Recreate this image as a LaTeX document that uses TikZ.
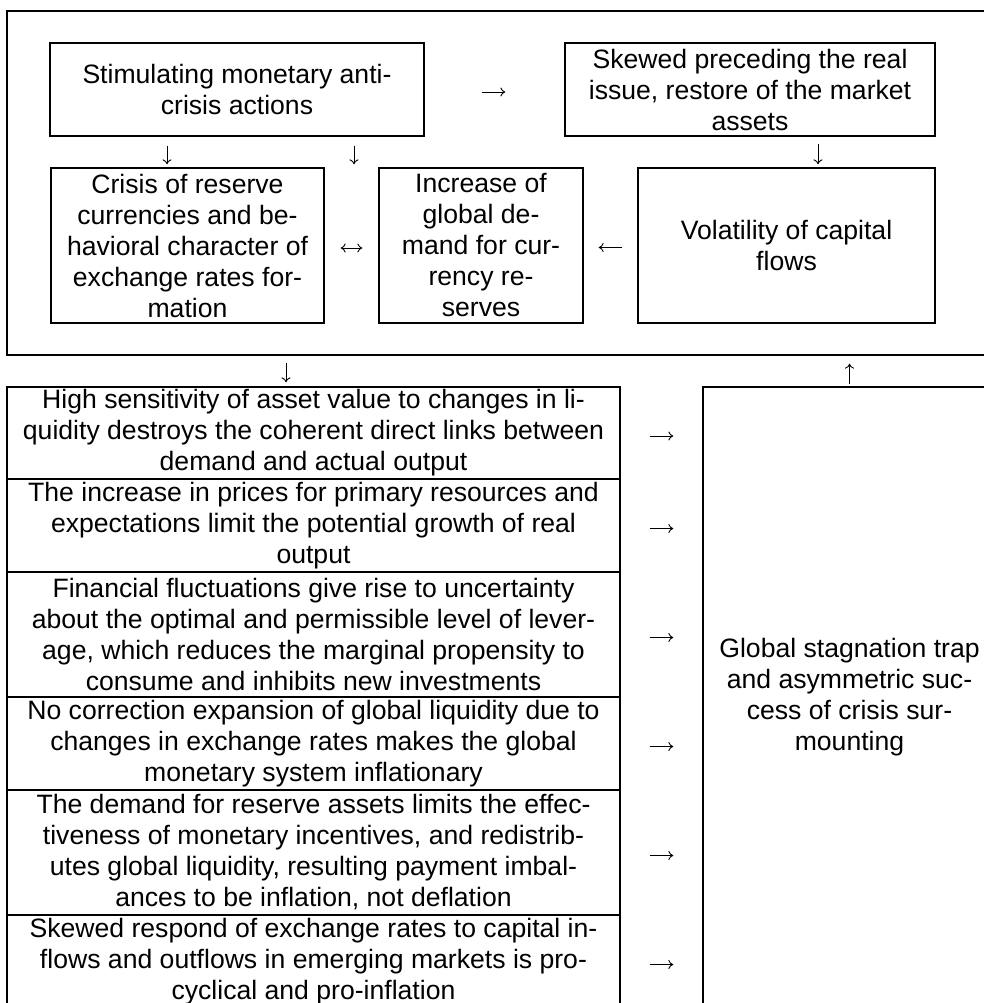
\documentclass[tikz,border=0pt]{standalone}
\usepackage{fontspec}
\setmainfont{Liberation Sans}
\usetikzlibrary{arrows.meta}
\begin{document}
\begin{tikzpicture}[x=1pt,y=-1pt,
  box/.style={draw, line width=1.3pt, rectangle, inner sep=0pt, align=center,
    font={\fontsize{26.6pt}{31pt}\selectfont}},
  conn/.style={line width=0.9pt, -{To[length=5pt,width=9pt]}},
  conntwo/.style={line width=0.9pt, {To[length=5pt,width=9pt]}-{To[length=5pt,width=9pt]}}
]
\useasboundingbox (0,0) rectangle (984,1003);
\clip (0,0) rectangle (984,1003);
\fill[white] (0,0) rectangle (984,1003);

% outer frame
\node[box, minimum width=989pt, minimum height=344pt] (outer) at (501.5,183) {};

% top boxes
\node[box, minimum width=374pt, minimum height=93pt] (box1) at (237,89.5)
  {Stimulating monetary anti-\\crisis actions};
\node[box, minimum width=370pt, minimum height=93pt] (skew) at (750,89.5)
  {Skewed preceding the real\\issue, restore of the market\\assets};
\node[box, minimum width=273pt, minimum height=155pt] (crisis) at (187.5,245.5)
  {Crisis of reserve\\currencies and be-\\havioral character of\\exchange rates for-\\mation};
\node[box, minimum width=204pt, minimum height=155pt] (inc) at (481,245.5)
  {Increase of\\global de-\\mand for cur-\\rency re-\\serves};
\node[box, minimum width=297pt, minimum height=155pt] (vol) at (786.5,245.5)
  {Volatility of capital\\flows};

% table rows
\node[box, minimum width=613pt, minimum height=92pt] (r1) at (313.5,433)
  {High sensitivity of asset value to changes in li-\\quidity destroys the coherent direct links between\\demand and actual output};
\node[box, minimum width=613pt, minimum height=93pt] (r2) at (313.5,525.5)
  {The increase in prices for primary resources and\\expectations limit the potential growth of real\\output};
\node[box, minimum width=613pt, minimum height=125pt] (r3) at (313.5,634.5)
  {Financial fluctuations give rise to uncertainty\\about the optimal and permissible level of lever-\\age, which reduces the marginal propensity to\\consume and inhibits new investments};
\node[box, minimum width=613pt, minimum height=93pt] (r4) at (313.5,743.5)
  {No correction expansion of global liquidity due to\\changes in exchange rates makes the global\\monetary system inflationary};
\node[box, minimum width=613pt, minimum height=125pt] (r5) at (313.5,852.5)
  {The demand for reserve assets limits the effec-\\tiveness of monetary incentives, and redistrib-\\utes global liquidity, resulting payment imbal-\\ances to be inflation, not deflation};
\node[box, minimum width=613pt, minimum height=93pt] (r6) at (313.5,961.5)
  {Skewed respond of exchange rates to capital in-\\flows and outflows in emerging markets is pro-\\cyclical and pro-inflation};

% right box
\node[box, minimum width=293pt, minimum height=621pt] (gbox) at (849.5,697.5)
  {Global stagnation trap\\and asymmetric suc-\\cess of crisis sur-\\mounting};

% helper x positions
\coordinate (xa) at (167,0);
\coordinate (xb) at (354,0);
\coordinate (xc) at (818,0);
\coordinate (xd) at (286,0);

% connectors in the top frame
\draw[conn, shorten <=57pt, shorten >=59pt] ([yshift=-2.5pt]box1.east) -- ([yshift=-2.5pt]box1.east -| skew.west);
\draw[conn, shorten <=9pt, shorten >=3pt] (box1.south -| xa) -- (crisis.north -| xa);
\draw[conn, shorten <=9pt, shorten >=3pt] (box1.south -| xb) -- (inc.north -| xb);
\draw[conn, shorten <=7pt, shorten >=3pt] (skew.south -| xc) -- (vol.north -| xc);
\draw[conntwo, shorten <=16pt, shorten >=16pt] ([yshift=-2.5pt]crisis.east) -- ([yshift=-2.5pt]crisis.east -| inc.west);
\draw[conn, shorten <=15pt, shorten >=15pt] ([yshift=-2pt]vol.west) -- ([yshift=-2pt]vol.west -| inc.east);

% between frame and lower part
\draw[conn, shorten <=7pt, shorten >=4pt] (outer.south -| xd) -- (r1.north -| xd);
\draw[conn, shorten <=2pt, shorten >=8pt] (gbox.north) -- (gbox.north |- outer.south);

% rows to right box
\foreach \i in {1,...,6}{
  \draw[conn, shorten <=29pt, shorten >=29pt] ([yshift=-3pt]r\i.east) -- ([yshift=-3pt]r\i.east -| gbox.west);
}
\end{tikzpicture}
\end{document}
